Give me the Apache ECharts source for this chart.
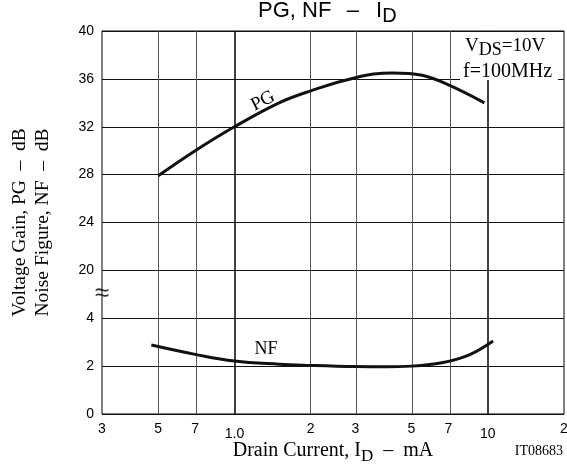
<!DOCTYPE html>
<html>
<head>
<meta charset="utf-8">
<script src="https://cdn.jsdelivr.net/npm/echarts@6/dist/echarts.min.js"></script>
<style>html,body{margin:0;padding:0;background:#fff;}#c{width:567px;height:465px;}</style>
</head>
<body>
<div id="c"></div>
<script>
// ---- data ----
const X_TICK_VALUES = [0.3, 0.5, 0.7, 1, 2, 3, 5, 7, 10, 20];      // mA
const X_TICK_LABELS = ['3', '5', '7', '1.0', '2', '3', '5', '7', '10', '2'];
const X_DECADE_TICKS = [1, 10];                                     // labels drawn a little lower
const Y_TICK_VALUES = [0, 2, 4, 20, 24, 28, 32, 36, 40];           // dB (break between 4 and 20)
const Y_TICK_LABELS = ['0', '2', '4', '20', '24', '28', '32', '36', '40'];

const PG_CURRENT = [0.5, 0.7, 1.0, 1.5, 2, 3, 4.2, 5.5, 7, 9.7];
const PG_GAIN    = [27.9, 30.0, 32.0, 34.0, 35.0, 36.1, 36.5, 36.3, 35.5, 34.0];

const NF_CURRENT = [0.47, 0.7, 1.0, 1.5, 2, 3, 4, 5, 6, 7, 8.5, 10.5];
const NF_FIGURE  = [2.88, 2.49, 2.21, 2.08, 2.03, 1.98, 1.97, 2.0, 2.08, 2.2, 2.48, 3.05];

// ---- scale helpers: log10 for current, piecewise (broken) axis for dB ----
const lx = v => Math.log10(v);
function yLevel(db) {
  for (let i = 0; i < Y_TICK_VALUES.length - 1; i++) {
    const a = Y_TICK_VALUES[i], b = Y_TICK_VALUES[i + 1];
    if (db <= b || i === Y_TICK_VALUES.length - 2) {
      if (i === 2) { // break segment
        return db <= 4 ? 2 + (db - 4) / 2 : 3 + (db - 20) / 4;
      }
      return i + (db - a) / (b - a);
    }
  }
}
const pgData = PG_CURRENT.map((c, i) => [lx(c), yLevel(PG_GAIN[i])]);
const nfData = NF_CURRENT.map((c, i) => [lx(c), yLevel(NF_FIGURE[i])]);

const mainTicks = X_TICK_VALUES.filter(v => X_DECADE_TICKS.indexOf(v) < 0);
const lowTicks = X_TICK_VALUES.filter(v => X_DECADE_TICKS.indexOf(v) >= 0);
function labelFor(v) {
  let best = 0, d = Infinity;
  X_TICK_VALUES.forEach((t, i) => { const e = Math.abs(lx(t) - v); if (e < d) { d = e; best = i; } });
  return X_TICK_LABELS[best];
}

const SERIF = '"Liberation Serif", "Times New Roman", serif';
const SANS = '"Liberation Sans", Arial, sans-serif';
const XMIN = lx(X_TICK_VALUES[0]), XMAX = lx(X_TICK_VALUES[X_TICK_VALUES.length - 1]);

const chart = echarts.init(document.getElementById('c'), null, {renderer: 'canvas'});
chart.setOption({
  animation: false,
  backgroundColor: '#fff',
  grid: {left: 102, right: 3, top: 31, bottom: 51, show: true, borderColor: '#000', borderWidth: 1,
         backgroundColor: 'transparent', containLabel: false, outerBoundsMode: 'none'},
  xAxis: [{
    type: 'value', min: XMIN, max: XMAX, position: 'bottom',
    axisLine: {show: false}, axisTick: {show: false}, splitLine: {show: false},
    axisLabel: {
      customValues: mainTicks.map(lx), margin: 8,
      fontFamily: SANS, fontSize: 14, color: '#000',
      formatter: labelFor
    },
    name: '{t|Drain Current, I}{s|D}{t|  –  mA}',
    nameLocation: 'middle',
    nameGap: 24,
    nameTextStyle: {
      rich: {
        t: {fontFamily: SERIF, fontSize: 20, color: '#000', lineHeight: 24, verticalAlign: 'top'},
        s: {fontFamily: SERIF, fontSize: 17, color: '#000', lineHeight: 17, verticalAlign: 'bottom'}
      }
    }
  }, {
    type: 'value', min: XMIN, max: XMAX, position: 'bottom',
    axisLine: {show: false}, axisTick: {show: false}, splitLine: {show: false},
    axisLabel: {
      customValues: lowTicks.map(lx), margin: 13,
      fontFamily: SANS, fontSize: 14, color: '#000',
      formatter: labelFor
    }
  }],
  yAxis: {
    type: 'value',
    min: 0, max: Y_TICK_VALUES.length - 1, interval: 1,
    axisLine: {show: false},
    axisTick: {show: false},
    splitLine: {show: true, lineStyle: {color: '#111', width: 1}},
    axisLabel: {
      margin: 8, fontFamily: SANS, fontSize: 14, color: '#000',
      formatter: v => Y_TICK_LABELS[Math.round(v)]
    },
    name: 'Voltage Gain, PG  –  dB\nNoise Figure, NF  –  dB',
    nameLocation: 'middle',
    nameRotate: 90,
    nameGap: 48,
    nameTextStyle: {fontFamily: SERIF, fontSize: 19.5, color: '#000', lineHeight: 23}
  },
  series: [
    {
      name: 'grid', type: 'line', data: [], z: 1, silent: true,
      markLine: {
        silent: true, symbol: ['none', 'none'], animation: false,
        label: {show: false},
        emphasis: {disabled: true},
        data: X_TICK_VALUES.slice(1, -1).map(v => ({
          xAxis: lx(v),
          lineStyle: (X_DECADE_TICKS.indexOf(v) >= 0) ? {color: '#000', width: 1.5, type: 'solid'} : {color: '#555', width: 1, type: 'solid'}
        }))
      }
    },
    {
      name: 'PG', type: 'line', data: pgData, smooth: 0.4, showSymbol: false, z: 5,
      lineStyle: {color: '#111', width: 3}, silent: true
    },
    {
      name: 'NF', type: 'line', data: nfData, smooth: 0.4, showSymbol: false, z: 5,
      lineStyle: {color: '#111', width: 3}, silent: true
    },
    {
      name: 'break', type: 'scatter', z: 6, silent: true,
      data: [[XMIN, 2.5]],
      symbolSize: 0,
      label: {show: true, position: 'inside', formatter: '≈', fontFamily: SANS, fontSize: 26, color: '#000'}
    }
  ],
  graphic: [
    {type: 'rect', z: 100, shape: {x: 460, y: 32, width: 98, height: 48}, style: {fill: '#fff'}},
    {type: 'text', z: 101, left: 465, top: 37,
      style: {text: '{m|V}{s|DS}{m|=10V}', rich: {
        m: {fontFamily: SERIF, fontSize: 19, fill: '#000', lineHeight: 22, verticalAlign: 'top'},
        s: {fontFamily: SERIF, fontSize: 18, fill: '#000', lineHeight: 18, verticalAlign: 'bottom'}
      }}},
    {type: 'text', z: 101, left: 463, top: 62,
      style: {text: 'f=100MHz', font: '20px ' + SERIF, fill: '#000'}},
    {type: 'text', z: 101, left: 258, top: 0,
      style: {text: '{a|PG, NF\u2002\u2009–\u2002 I}{b|D}', rich: {
        a: {fontFamily: SANS, fontSize: 22, fill: '#000', lineHeight: 26, verticalAlign: 'top'},
        b: {fontFamily: SANS, fontSize: 20, fill: '#000', lineHeight: 16, verticalAlign: 'bottom'}
      }}},
    {type: 'text', z: 101, x: 263, y: 101, rotation: 0.47,
      style: {text: 'PG', font: '19px ' + SERIF, fill: '#000', align: 'center', verticalAlign: 'middle'}},
    {type: 'text', z: 101, x: 266, y: 349,
      style: {text: 'NF', font: '18px ' + SERIF, fill: '#000', align: 'center', verticalAlign: 'middle'}},
    {type: 'text', z: 101, x: 563, y: 451,
      style: {text: 'IT08683', font: '14px ' + SERIF, fill: '#000', align: 'right', verticalAlign: 'middle'}}
  ]
});
</script>
</body>
</html>
